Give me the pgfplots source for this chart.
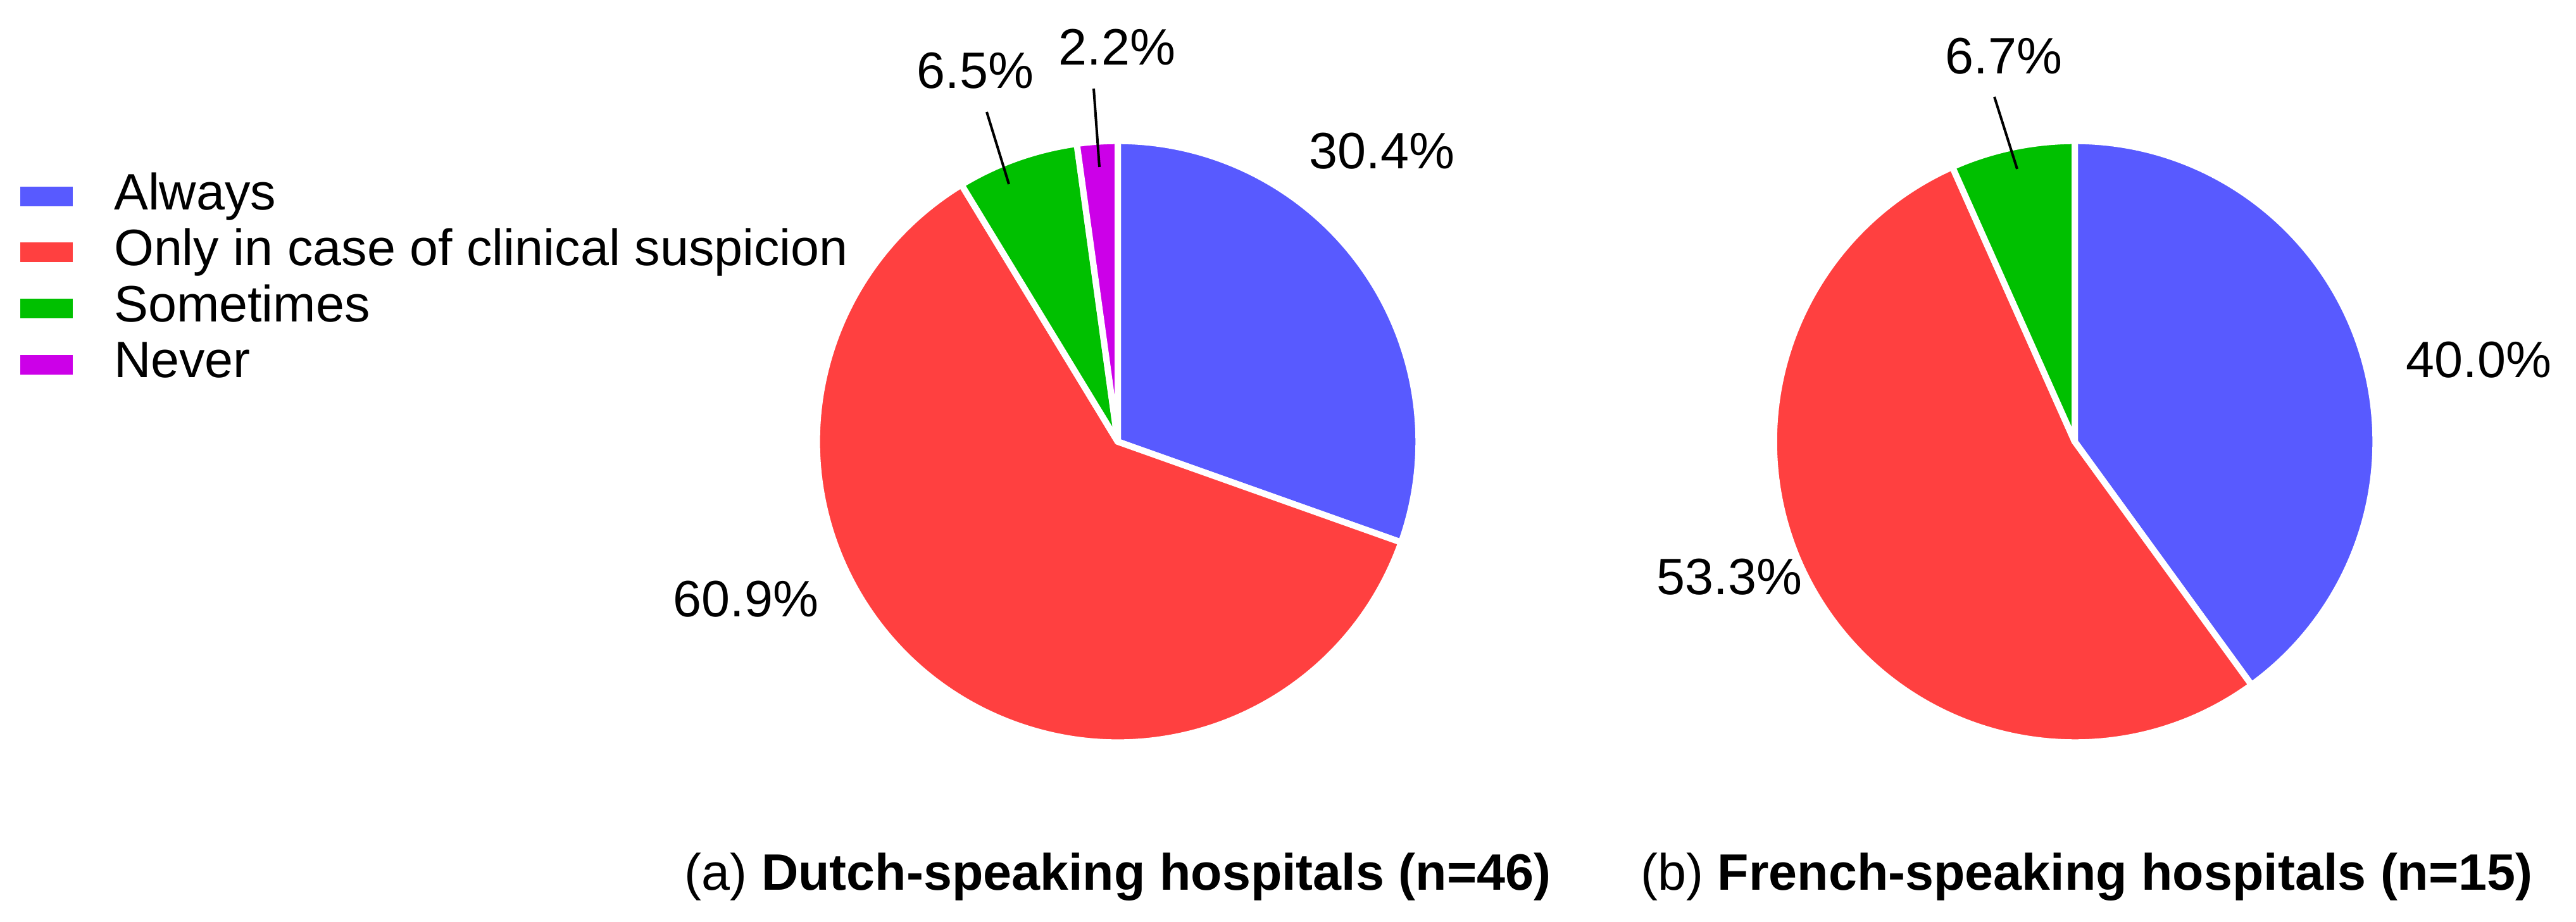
\documentclass[border=0pt]{standalone}
\usepackage{pgfplots}
\usepackage{pgfplotstable}
\pgfplotsset{compat=1.18}
\usepackage{fontspec}
\setmainfont{Liberation Sans}

\definecolor{cAlways}{RGB}{88,90,255}
\definecolor{cOnly}{RGB}{255,64,64}
\definecolor{cSome}{RGB}{0,192,0}
\definecolor{cNever}{RGB}{204,0,232}

% counts per answer (percentages = count / n)
\pgfplotstableread{
label count
Always 14
Only 28
Sometimes 3
Never 1
}\dutchtab
\pgfplotstableread{
label count
Always 6
Only 8
Sometimes 1
Never 0
}\frenchtab

\newcommand\pieangles[2]{%
  \def\tot{0}%
  \pgfplotsforeachungrouped \i in {0,...,3}{%
    \pgfplotstablegetelem{\i}{count}\of#1%
    \pgfmathsetmacro\tot{\tot+\pgfplotsretval}}%
  \def\cum{0}%
  \pgfplotsforeachungrouped \i in {0,...,3}{%
    \pgfplotstablegetelem{\i}{count}\of#1%
    \pgfmathsetmacro\st{90-360*(\cum/\tot)}%
    \pgfmathsetmacro\cum{\cum+\pgfplotsretval}%
    \pgfmathsetmacro\en{90-360*(\cum/\tot)}%
    \expandafter\xdef\csname #2s\i\endcsname{\st}%
    \expandafter\xdef\csname #2e\i\endcsname{\en}%
  }}
\pieangles{\dutchtab}{du}
\pieangles{\frenchtab}{fr}

\newcommand\slice[5]{%
  \fill[#3, draw=white, line width=0.1cm, line join=round]
    (axis cs:#4,#5) -- ++(\csname #1s#2\endcsname:4.75cm)
    arc[start angle=\csname #1s#2\endcsname, end angle=\csname #1e#2\endcsname, radius=4.75cm] -- cycle;}

\begin{document}
\begin{tikzpicture}[font=\fontsize{23}{27.6}\selectfont]
\begin{axis}[
  x=0.01cm, y=0.01cm, scale only axis,
  xmin=0, xmax=4070, ymin=0, ymax=1457,
  hide axis, clip=false,
  legend cell align=left,
  legend image code/.code={\fill[#1] (0cm,-0.155cm) rectangle (0.83cm,0.155cm);},
  legend style={at={(axis cs:32,1191)}, anchor=north west, draw=none, fill=none,
    inner sep=0pt, outer sep=0pt, row sep=0pt, column sep=0.65cm,
    font=\fontsize{23}{27.6}\selectfont,
    nodes={inner sep=0pt, text height=0.65cm, text depth=0.236cm}},
]
\path (axis cs:0,0) rectangle (axis cs:4070,1457);
\addlegendimage{fill=cAlways, draw=none}
\addlegendentry{Always}
\addlegendimage{fill=cOnly, draw=none}
\addlegendentry{Only in case of clinical suspicion}
\addlegendimage{fill=cSome, draw=none}
\addlegendentry{Sometimes}
\addlegendimage{fill=cNever, draw=none}
\addlegendentry{Never}

% Dutch-speaking pie
\slice{du}{0}{cAlways}{1766}{759}
\slice{du}{1}{cOnly}{1766}{759}
\slice{du}{2}{cSome}{1766}{759}
\slice{du}{3}{cNever}{1766}{759}
% French-speaking pie
\slice{fr}{0}{cAlways}{3278}{759}
\slice{fr}{1}{cOnly}{3278}{759}
\slice{fr}{2}{cSome}{3278}{759}

% percentage labels
\node[anchor=base west, inner sep=0pt] at (axis cs:2068,1190) {30.4\%};
\node[anchor=base west, inner sep=0pt] at (axis cs:1063,482) {60.9\%};
\node[anchor=base west, inner sep=0pt] at (axis cs:1448,1317) {6.5\%};
\node[anchor=base west, inner sep=0pt] at (axis cs:1672,1354) {2.2\%};
\node[anchor=base west, inner sep=0pt] at (axis cs:3801,860) {40.0\%};
\node[anchor=base west, inner sep=0pt] at (axis cs:2617,517) {53.3\%};
\node[anchor=base west, inner sep=0pt] at (axis cs:3073,1340) {6.7\%};
\draw[line width=0.04cm] (axis cs:1559,1280) -- (axis cs:1594,1166);
\draw[line width=0.04cm] (axis cs:1728,1317) -- (axis cs:1737,1193);
\draw[line width=0.04cm] (axis cs:3151,1304) -- (axis cs:3187,1190);

% captions
\node[anchor=base, inner sep=0pt] at (axis cs:1766,50) {(a) \textbf{Dutch-speaking hospitals (n=46)}};
\node[anchor=base, inner sep=0pt] at (axis cs:3297,50) {(b) \textbf{French-speaking hospitals (n=15)}};
\end{axis}
\end{tikzpicture}
\end{document}
